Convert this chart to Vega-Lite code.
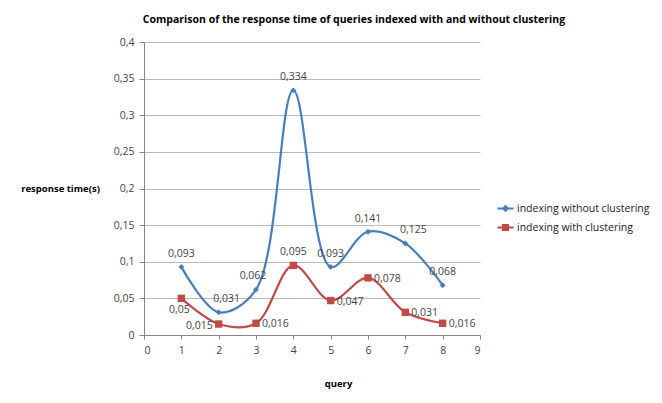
{
  "$schema": "https://vega.github.io/schema/vega-lite/v6.json",
  "autosize": "none",
  "width": 336,
  "height": 293,
  "padding": {"left": 144, "top": 42, "right": 182, "bottom": 68},
  "background": "white",
  "config": {
    "locale": {"number": {"decimal": ",", "thousands": ".", "grouping": [3], "currency": ["", ""]}},
    "view": {"stroke": null},
    "font": "Open Sans",
    "axis": {"labelFont": "Open Sans", "labelFontSize": 10.5, "labelColor": "#444444", "titleFont": "Open Sans", "titleFontWeight": "bold", "titleFontSize": 9.5, "titleColor": "#000000", "domainColor": "#868686", "tickColor": "#868686", "gridColor": "#b8b8b8"}
  },
  "title": {"text": "Comparison of the response time of queries indexed with and without clustering", "font": "Open Sans", "fontSize": 10.5, "fontWeight": "bold", "color": "#000000", "anchor": "middle", "dx": 42, "offset": 12},
  "data": {"values": [
    {"query": 1, "time": 0.093, "series": "indexing without clustering"},
    {"query": 2, "time": 0.031, "series": "indexing without clustering"},
    {"query": 3, "time": 0.062, "series": "indexing without clustering"},
    {"query": 4, "time": 0.334, "series": "indexing without clustering"},
    {"query": 5, "time": 0.093, "series": "indexing without clustering"},
    {"query": 6, "time": 0.141, "series": "indexing without clustering"},
    {"query": 7, "time": 0.125, "series": "indexing without clustering"},
    {"query": 8, "time": 0.068, "series": "indexing without clustering"},
    {"query": 1, "time": 0.05, "series": "indexing with clustering"},
    {"query": 2, "time": 0.015, "series": "indexing with clustering"},
    {"query": 3, "time": 0.016, "series": "indexing with clustering"},
    {"query": 4, "time": 0.095, "series": "indexing with clustering"},
    {"query": 5, "time": 0.047, "series": "indexing with clustering"},
    {"query": 6, "time": 0.078, "series": "indexing with clustering"},
    {"query": 7, "time": 0.031, "series": "indexing with clustering"},
    {"query": 8, "time": 0.016, "series": "indexing with clustering"}
  ]},
  "encoding": {
    "x": {"field": "query", "type": "quantitative", "scale": {"domain": [0, 9], "nice": false}, "axis": {"values": [0,1,2,3,4,5,6,7,8,9], "grid": false, "title": "query", "titleX": 194, "titleY": 43, "titleAnchor": "middle", "labelPadding": 6, "tickSize": 4}},
    "y": {"field": "time", "type": "quantitative", "scale": {"domain": [0, 0.4], "nice": false}, "axis": {"values": [0,0.05,0.1,0.15,0.2,0.25,0.3,0.35,0.4], "format": ".2~f", "grid": true, "title": "response time(s)", "titleAngle": 0, "titleAlign": "center", "titleBaseline": "middle", "titleX": -84, "titleY": 146, "labelPadding": 5, "tickSize": 5}}
  },
  "layer": [
    {
      "mark": {"type": "line", "interpolate": "catmull-rom", "strokeWidth": 2.2},
      "encoding": {
        "color": {"field": "series", "type": "nominal", "scale": {"domain": ["indexing without clustering", "indexing with clustering"], "range": ["#4a7ebb", "#be4b48"]},
          "legend": {"title": null, "orient": "none", "legendX": 352, "legendY": 157, "labelFont": "Open Sans", "labelFontSize": 10.5, "labelColor": "#222222", "symbolSize": 260, "symbolStrokeWidth": 2, "rowPadding": 3, "labelOffset": 2,
            "encode": {"symbols": {"update": {
              "fill": {"scale": "color", "field": "value"},
              "shape": {"signal": "datum.value == 'indexing without clustering' ? 'M-1,0H1M0,-0.3L0.3,0L0,0.3L-0.3,0Z' : 'M-1,0H1M-0.32,-0.32H0.32V0.32H-0.32Z'"}
            }}}}}
      }
    },
    {
      "transform": [{"filter": "datum.series == 'indexing without clustering'"}],
      "mark": {"type": "point", "shape": "diamond", "filled": true, "size": 35, "color": "#4a7ebb", "opacity": 1}
    },
    {
      "transform": [{"filter": "datum.series == 'indexing with clustering'"}],
      "mark": {"type": "square", "size": 55, "color": "#be4b48", "opacity": 1}
    },
    {
      "transform": [{"filter": "datum.series == 'indexing without clustering' && (datum.query == 1 || datum.query == 4 || datum.query == 5 || datum.query == 6 || datum.query == 8)"}],
      "mark": {"type": "text", "dy": -13, "fontSize": 10.5, "color": "#444444", "font": "Open Sans"},
      "encoding": {"text": {"field": "time", "type": "quantitative", "format": "~g"}}
    },
    {
      "transform": [{"filter": "datum.series == 'indexing without clustering' && (datum.query == 2 || datum.query == 7)"}],
      "mark": {"type": "text", "dy": -13, "dx": 8, "fontSize": 10.5, "color": "#444444", "font": "Open Sans"},
      "encoding": {"text": {"field": "time", "type": "quantitative", "format": "~g"}}
    },
    {
      "transform": [{"filter": "datum.series == 'indexing without clustering' && datum.query == 3"}],
      "mark": {"type": "text", "dy": -14, "dx": -3, "fontSize": 10.5, "color": "#444444", "font": "Open Sans"},
      "encoding": {"text": {"field": "time", "type": "quantitative", "format": "~g"}}
    },
    {
      "transform": [{"filter": "datum.series == 'indexing with clustering' && datum.query == 4"}],
      "mark": {"type": "text", "dy": -13, "fontSize": 10.5, "color": "#444444", "font": "Open Sans"},
      "encoding": {"text": {"field": "time", "type": "quantitative", "format": "~g"}}
    },
    {
      "transform": [{"filter": "datum.series == 'indexing with clustering' && datum.query == 1"}],
      "mark": {"type": "text", "dy": 12, "dx": -2, "fontSize": 10.5, "color": "#444444", "font": "Open Sans"},
      "encoding": {"text": {"field": "time", "type": "quantitative", "format": "~g"}}
    },
    {
      "transform": [{"filter": "datum.series == 'indexing with clustering' && datum.query == 2"}],
      "mark": {"type": "text", "dx": -6, "dy": 2, "align": "right", "fontSize": 10.5, "color": "#444444", "font": "Open Sans"},
      "encoding": {"text": {"field": "time", "type": "quantitative", "format": "~g"}}
    },
    {
      "transform": [{"filter": "datum.series == 'indexing with clustering' && datum.query != 1 && datum.query != 2 && datum.query != 4"}],
      "mark": {"type": "text", "dx": 6, "dy": 1, "align": "left", "fontSize": 10.5, "color": "#444444", "font": "Open Sans"},
      "encoding": {"text": {"field": "time", "type": "quantitative", "format": "~g"}}
    }
  ]
}
